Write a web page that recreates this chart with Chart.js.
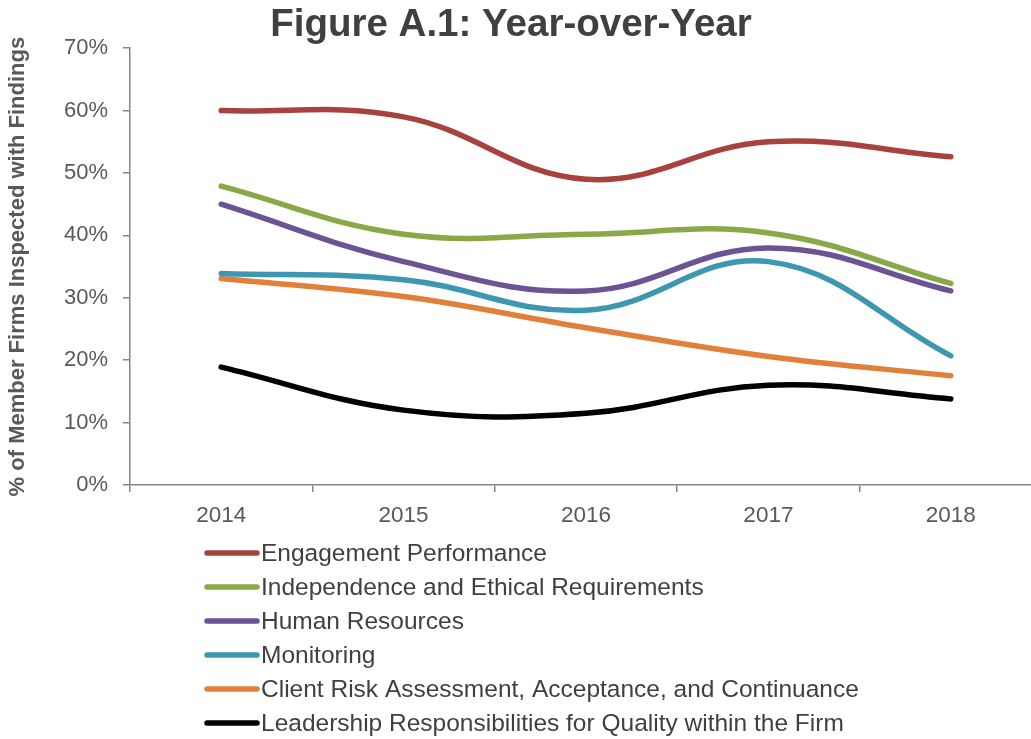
<!DOCTYPE html>
<html>
<head>
<meta charset="utf-8">
<script src="https://cdn.jsdelivr.net/npm/chart.js@4.4.1/dist/chart.umd.min.js"></script>
<style>
  html, body { margin: 0; padding: 0; background: #fff; overflow: hidden; }
</style>
</head>
<body>
<canvas id="myChart" width="1042" height="739"></canvas>
<script>
// years on the x axis
let years = ['2014', '2015', '2016', '2017', '2018'];

// % of member firms inspected with findings
let engagement = [60.0, 59.0, 49.0, 55.0, 52.6];
let independence = [47.9, 40.2, 40.2, 40.4, 32.3];
let humanResources = [45.0, 35.8, 31.1, 38.0, 31.1];
let monitoring = [33.9, 32.9, 28.0, 35.8, 20.7];
let clientRisk = [33.1, 30.2, 25.2, 20.6, 17.5];
let leadership = [18.9, 12.0, 11.5, 16.0, 13.8];

let seriesNames = [
  'Engagement Performance',
  'Independence and Ethical Requirements',
  'Human Resources',
  'Monitoring',
  'Client Risk Assessment, Acceptance, and Continuance',
  'Leadership Responsibilities for Quality within the Firm'
];
let seriesValues = [engagement, independence, humanResources, monitoring, clientRisk, leadership];
let lineColors = ['#A8423F', '#89A948', '#6B5394', '#3D97B1', '#E0803A', '#000000'];

const fontFamily = '"Liberation Sans", Arial, sans-serif';

// legend drawn as one item per row under the x axis
const listLegend = {
  id: 'listLegend',
  afterDraw(chart) {
    const ctx = chart.ctx;
    const top = chart.chartArea.bottom + 68;
    ctx.save();
    ctx.font = '24.5px ' + fontFamily;
    ctx.textBaseline = 'middle';
    ctx.textAlign = 'left';
    chart.data.datasets.forEach((ds, i) => {
      const y = top + i * 34;
      ctx.strokeStyle = ds.borderColor;
      ctx.lineWidth = 5.5;
      ctx.lineCap = 'round';
      ctx.beginPath();
      ctx.moveTo(207, y);
      ctx.lineTo(257, y);
      ctx.stroke();
      ctx.fillStyle = '#404040';
      ctx.fillText(ds.label, 261, y + 1);
    });
    ctx.restore();
  }
};

const datasets = seriesNames.map((name, i) => ({
  label: name,
  data: seriesValues[i],
  borderColor: lineColors[i],
  backgroundColor: lineColors[i],
  borderWidth: 5.5,
  borderCapStyle: 'round',
  pointRadius: 0,
  tension: 0.4,
  fill: false
}));

const config = {
  type: 'line',
  data: { labels: years, datasets: datasets },
  options: {
    responsive: false,
    animation: false,
    // negative left padding keeps the title centred like the cropped original
    layout: { padding: { left: -20, right: 0, top: 0, bottom: 204 } },
    plugins: {
      legend: { display: false },
      tooltip: { enabled: false },
      title: {
        display: true,
        text: 'Figure A.1: Year-over-Year',
        color: '#404040',
        font: { family: fontFamily, size: 38.5, weight: 'bold' },
        padding: { top: 2, bottom: 0 }
      }
    },
    scales: {
      x: {
        offset: true,
        grid: { offset: true, drawOnChartArea: false, tickLength: 7, color: '#868686', lineWidth: 1.5 },
        border: { color: '#868686', width: 1.5 },
        ticks: { color: '#595959', font: { family: fontFamily, size: 22.5 }, padding: 10, maxRotation: 0 },
        afterFit: s => { s.height = 50; }
      },
      y: {
        min: 0,
        max: 70,
        ticks: {
          stepSize: 10,
          color: '#595959',
          font: { family: fontFamily, size: 22 },
          padding: 15,
          callback: v => v + '%'
        },
        grid: { drawOnChartArea: false, tickLength: 7, color: '#868686', lineWidth: 1.5 },
        border: { color: '#868686', width: 1.5 },
        title: {
          display: true,
          text: '% of Member Firms Inspected with Findings',
          color: '#595959',
          font: { family: fontFamily, size: 22, weight: 'bold' },
          padding: { top: 25, bottom: 4 }
        },
        afterFit: s => { s.width = 150; }
      }
    }
  },
  plugins: [listLegend]
};

var ctx = document.getElementById('myChart');
var mychart = new Chart(ctx, config);
</script>
</body>
</html>
